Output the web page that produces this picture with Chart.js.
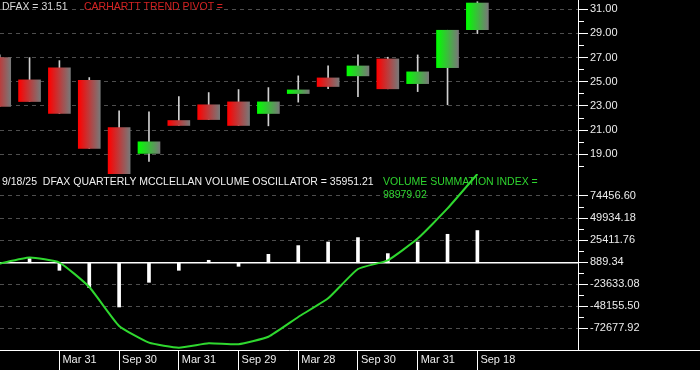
<!DOCTYPE html>
<html>
<head>
<meta charset="utf-8">
<script src="https://cdn.jsdelivr.net/npm/chart.js@4.4.1/dist/chart.umd.min.js"></script>
<style>
  html, body { margin: 0; padding: 0; background: #000; }
  #wrap { position: relative; width: 700px; height: 370px; overflow: hidden; background: #000; }
  #chart { position: absolute; left: 0; top: 0; }
  .lbl { position: absolute; font: 10.5px "Liberation Sans", Arial, sans-serif; line-height: 13px; white-space: pre; }
  #baseExt { position: absolute; left: 578px; top: 349.5px; width: 122px; height: 1px; background: #fff; }
</style>
</head>
<body>
<div id="wrap">
  <canvas id="chart" width="700" height="370"></canvas>
  <div id="baseExt"></div>
  <div class="lbl" style="left:2px; top:0px; color:#d8d8d8">DFAX = 31.51</div>
  <div class="lbl" style="left:84px; top:0px; color:#d42222">CARHARTT TREND PIVOT =</div>
  <div class="lbl" style="left:2px; top:175px; color:#f0f0f0">9/18/25  DFAX QUARTERLY MCCLELLAN VOLUME OSCILLATOR = 35951.21</div>
  <div class="lbl" style="left:383px; top:175px; color:#2fd42f">VOLUME SUMMATION INDEX =</div>
  <div class="lbl" style="left:383px; top:188px; color:#2fd42f">98979.02</div>
</div>
<script>
// ── Data ──────────────────────────────────────────────────────────────────────
// quarter slots, -1 is the candle cut off at the left edge
const periods = [-1, 0, 1, 2, 3, 4, 5, 6, 7, 8, 9, 10, 11, 12, 13, 14, 15];
const opens   = [27.00, 25.16, 26.15, 25.13, 21.22, 19.08, 21.80, 23.10, 23.34, 22.38, 24.03, 25.32, 25.49, 26.89, 24.85, 26.17, 29.31];
const closes  = [22.96, 23.37, 22.38, 19.49, 17.38, 20.04, 21.39, 21.88, 21.39, 23.34, 24.33, 24.61, 26.31, 24.42, 25.82, 29.26, 31.51];
const highs   = [27.22, 27.00, 26.75, 25.35, 22.60, 22.52, 23.78, 24.11, 24.36, 24.52, 25.49, 26.31, 27.22, 27.03, 27.22, 29.26, 31.62];
const lows    = [22.96, 23.37, 22.38, 19.49, 17.38, 18.42, 21.39, 21.88, 21.39, 21.36, 23.32, 24.44, 23.78, 24.42, 24.19, 23.10, 28.98];

const oscillator = [null, 4700, -8360, -27640, -49270, -21740, -8360, 2790, -3900, 9470, 19170, 23180, 28090, 10250, 23180, 31770, 35951.21];
const summation  = [-900, 5800, 300, -27000, -70400, -89000, -94600, -89700, -90800, -82400, -60400, -39600, -6900, 2800, 27000, 60600, 98979.02];

const xTickPos    = [1, 3, 5, 7, 9, 11, 13, 15];
const xTickLabels = ['Mar 31', 'Sep 30', 'Mar 31', 'Sep 29', 'Mar 28', 'Sep 30', 'Mar 31', 'Sep 18'];

const priceMajor = [19, 21, 23, 25, 27, 29, 31];
const priceMinor = [18, 20, 22, 24, 26, 28, 30];
const volMajor   = [-72677.92, -48155.50, -23633.08, 889.34, 25411.76, 49934.18, 74456.60];

// ── Helpers ───────────────────────────────────────────────────────────────────
const X_MIN = -0.99, X_MAX = 18.37;
const GRID = '#4e4e4e';
const TXT = '#ececec';
Chart.defaults.font.family = '"Liberation Sans", Arial, sans-serif';
Chart.defaults.font.size = 11;

const volMinor = volMajor.slice(1).map((v, i) => (v + volMajor[i]) / 2);

const bodies = periods.map((p, i) => ({ x: p, y: [opens[i], closes[i]] }));
const wicks  = periods.map((p, i) => ({ x: p, y: [lows[i], highs[i]] }));
const oscPts = periods.map((p, i) => ({ x: p, y: oscillator[i] }));
const vsiPts = periods.map((p, i) => ({ x: p, y: summation[i] }));
const zeroPts = [{ x: X_MIN, y: 0 }, { x: X_MAX, y: 0 }];

function bodyFill(ctx) {
  const chart = ctx.chart;
  const raw = ctx.raw;
  if (!chart.chartArea || !raw) return '#888';
  const up = raw.y[1] > raw.y[0];
  const px = chart.scales.x.getPixelForValue(raw.x);
  const g = chart.ctx.createLinearGradient(px - 11, 0, px + 11, 0);
  g.addColorStop(0, up ? '#00ff00' : '#ff0000');
  g.addColorStop(1, '#787878');
  return g;
}

function isIn(arr, v) {
  return arr.some(a => Math.abs(a - v) < 1e-6);
}

function yAxis(major, minor, min, max, weight) {
  return {
    type: 'linear', position: 'right', stack: 'panes', stackWeight: weight,
    min: min, max: max,
    afterBuildTicks: s => { s.ticks = major.concat(minor).sort((a, b) => a - b).map(v => ({ value: v })); },
    afterFit: s => { s.width = 122; s.paddingTop = 0; s.paddingBottom = 0; },
    ticks: {
      color: TXT, padding: 2, autoSkip: false,
      callback: v => isIn(major, v) ? v.toFixed(2) : ''
    },
    grid: {
      color: c => (c.tick && isIn(major, c.tick.value)) ? GRID : 'rgba(0,0,0,0)',
      tickColor: '#ffffff', tickLength: 10,
      tickBorderDash: c => (c.tick && isIn(major, c.tick.value)) ? [] : [5, 40]
    },
    border: { color: '#ffffff', width: 1, dash: [4, 4] }
  };
}

// clip each dataset to its own panel
const paneClip = {
  id: 'paneClip',
  beforeDatasetDraw(chart, args) {
    const ys = chart.scales[args.meta.yAxisID];
    const a = chart.chartArea;
    chart.ctx.save();
    chart.ctx.beginPath();
    chart.ctx.rect(a.left, ys.top, a.right - a.left, ys.bottom - ys.top);
    chart.ctx.clip();
  },
  afterDatasetDraw(chart) { chart.ctx.restore(); }
};

// ── Chart ─────────────────────────────────────────────────────────────────────
new Chart(document.getElementById('chart'), {
  type: 'bar',
  data: {
    datasets: [
      { type: 'bar', data: bodies, yAxisID: 'yp', grouped: false, barThickness: 22, backgroundColor: bodyFill, order: 1 },
      { type: 'bar', data: wicks, yAxisID: 'yp', grouped: false, barThickness: 1, backgroundColor: '#d0d0d0', order: 2 },
      { type: 'line', data: zeroPts, yAxisID: 'yv', borderColor: '#ffffff', borderWidth: 1.5, pointRadius: 0, order: 4 },
      { type: 'bar', data: oscPts, yAxisID: 'yv', grouped: false, barThickness: 3, backgroundColor: '#ffffff', order: 3 },
      { type: 'line', data: vsiPts, yAxisID: 'yv', borderColor: '#2fd82f', borderWidth: 2, pointRadius: 0, tension: 0.15, order: 0 }
    ]
  },
  options: {
    responsive: false, animation: false,
    layout: { padding: 0 },
    plugins: { legend: { display: false }, tooltip: { enabled: false } },
    scales: {
      x: {
        type: 'linear', position: 'bottom', min: X_MIN, max: X_MAX, offset: false,
        afterBuildTicks: s => { s.ticks = xTickPos.map(v => ({ value: v })); },
        afterFit: s => { s.height = 20; s.paddingLeft = 0; s.paddingRight = 0; },
        ticks: {
          color: TXT, autoSkip: false, maxRotation: 0, align: 'start', labelOffset: 3, padding: -17,
          callback: v => xTickLabels[xTickPos.indexOf(v)]
        },
        grid: { drawOnChartArea: false, offset: false, tickLength: 20, tickColor: '#ffffff' },
        border: { color: '#ffffff', width: 1 }
      },
      yp: yAxis(priceMajor, priceMinor, 17.38, 31.76, 174),
      yv: yAxis(volMajor, volMinor, -97200.34, 98979.02, 176)
    }
  },
  plugins: [paneClip]
});
</script>
</body>
</html>
